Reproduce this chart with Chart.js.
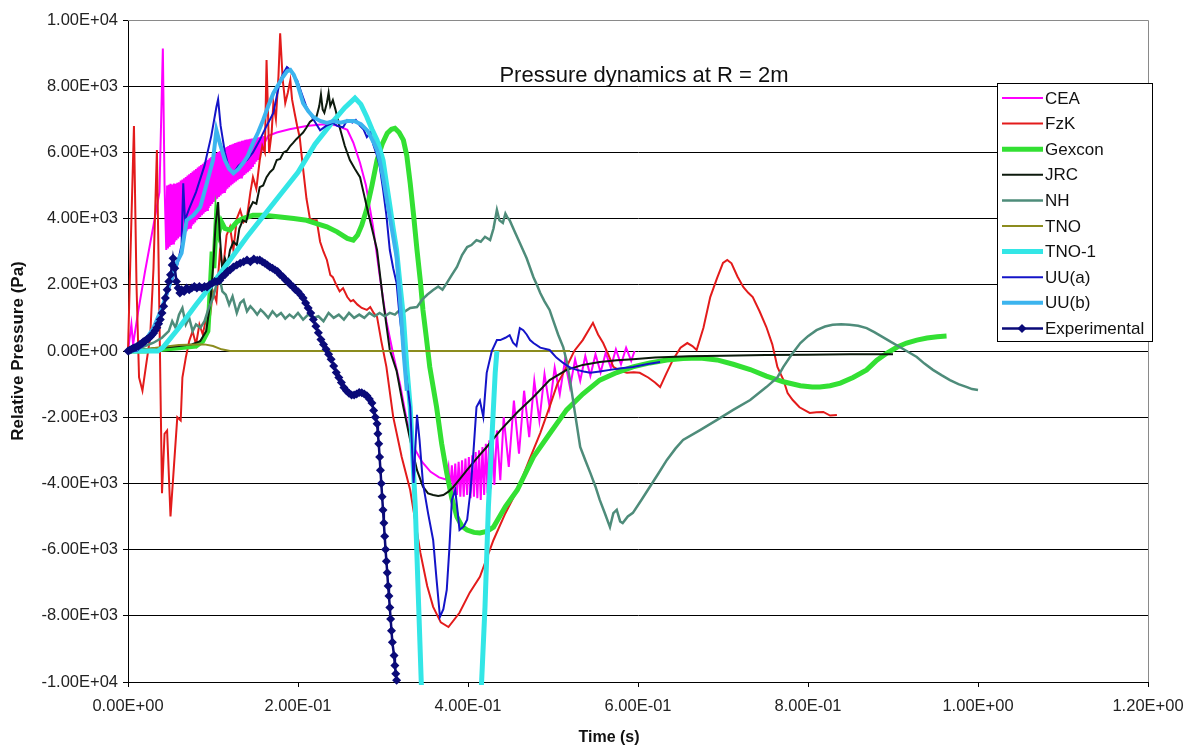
<!DOCTYPE html>
<html>
<head>
<meta charset="utf-8">
<title>Pressure dynamics at R = 2m</title>
<script src="https://cdn.jsdelivr.net/npm/chart.js@4.4.1/dist/chart.umd.min.js"></script>
<style>
  html, body { margin: 0; padding: 0; background: #ffffff; }
  canvas { display: block; }
</style>
</head>
<body>
<canvas id="chart" width="1189" height="747"></canvas>
<script>
// ---- data -------------------------------------------------------------
const seriesNames = ['CEA', 'FzK', 'Gexcon', 'JRC', 'NH', 'TNO', 'TNO-1', 'UU(a)', 'UU(b)', 'Experimental'];
const xTickLabels = ['0.00E+00', '2.00E-01', '4.00E-01', '6.00E-01', '8.00E-01', '1.00E+00', '1.20E+00'];
const yTickLabels = ['-1.00E+04', '-8.00E+03', '-6.00E+03', '-4.00E+03', '-2.00E+03', '0.00E+00',
                     '2.00E+03', '4.00E+03', '6.00E+03', '8.00E+03', '1.00E+04'];

// time (s) / relative pressure (Pa)
const ceaT = [0, 0.004, 0.006, 0.012, 0.020, 0.030, 0.037, 0.041, 0.043,
  0.045, 0.046, 0.047, 0.048, 0.049, 0.050, 0.051, 0.052, 0.053, 0.054, 0.055, 0.056, 0.057, 0.058, 0.059,
  0.060, 0.061, 0.062, 0.063, 0.064, 0.065, 0.066, 0.067, 0.068, 0.069, 0.070, 0.071, 0.072, 0.073, 0.074,
  0.075, 0.076, 0.077, 0.078, 0.079, 0.080, 0.081, 0.082, 0.083, 0.084, 0.085, 0.086, 0.087, 0.088, 0.089,
  0.090, 0.091, 0.092, 0.093, 0.094, 0.095, 0.096, 0.097, 0.098, 0.099, 0.100, 0.101, 0.102, 0.103, 0.104,
  0.105, 0.106, 0.107, 0.108, 0.109, 0.110, 0.111, 0.112, 0.113, 0.114, 0.115, 0.116, 0.117, 0.118, 0.119,
  0.120, 0.121, 0.122, 0.123, 0.124, 0.125, 0.126, 0.127, 0.128, 0.129, 0.130, 0.131, 0.132, 0.133, 0.134,
  0.135, 0.136, 0.137, 0.138, 0.139, 0.140, 0.141, 0.142, 0.143, 0.144, 0.145, 0.146, 0.147, 0.148, 0.149,
  0.150, 0.151, 0.152, 0.153, 0.154, 0.155, 0.156, 0.157, 0.158, 0.159, 0.160, 0.161,
  0.165, 0.175, 0.190, 0.210, 0.230, 0.245, 0.258, 0.265, 0.273, 0.280, 0.288, 0.296, 0.304, 0.312, 0.320,
  0.328, 0.336, 0.346, 0.356, 0.366, 0.374,
  0.377, 0.379, 0.381, 0.383, 0.385, 0.387, 0.389, 0.391, 0.393, 0.395, 0.397, 0.399, 0.401, 0.403, 0.405,
  0.407, 0.409, 0.411, 0.413, 0.415, 0.417, 0.419, 0.421, 0.423, 0.425, 0.427, 0.429, 0.431, 0.434,
  0.438, 0.442, 0.448, 0.454, 0.460, 0.466, 0.472, 0.478, 0.484, 0.490, 0.496,
  0.502, 0.508, 0.514, 0.520, 0.526, 0.532, 0.538, 0.544, 0.550, 0.556, 0.562, 0.568, 0.574, 0.580, 0.586,
  0.592, 0.596];
const ceaP = [0, 800, 200, 1200, 2400, 3800, 4800, 9140, 5000,
  3050, 5000, 3100, 5020, 3150, 5050, 3200, 5030, 3250, 5060, 3300, 5050, 3350, 5080, 3400,
  5100, 3450, 5150, 3500, 5180, 3520, 5220, 3580, 5260, 3620, 5300, 3680, 5340, 3720, 5380,
  3780, 5420, 3830, 5460, 3880, 5500, 3950, 5540, 4000, 5580, 4050, 5620, 4100, 5660, 4150,
  5700, 4200, 5740, 4260, 5780, 4320, 5820, 4380, 5860, 4440, 5900, 4500, 5940, 4550, 5980,
  4600, 6010, 4650, 6040, 4700, 6070, 4750, 6100, 4800, 6130, 4850, 6160, 4900, 6190, 4950,
  6220, 5000, 6240, 5040, 6260, 5080, 6280, 5120, 6300, 5160, 6320, 5200, 6330, 5240, 6350,
  5280, 6360, 5320, 6380, 5360, 6390, 5400, 6400, 5450, 6410, 5500, 6420, 5560, 6430, 5640,
  6440, 5720, 6450, 5800, 6460, 5900, 6470, 6000, 6480, 6100, 6490, 6300,
  6500, 6600, 6700, 6800, 6850, 6820, 6680, 6300, 5680, 5000, 3800, 2300, 900, -100, -1000,
  -2100, -2900, -3350, -3650, -3820, -3880,
  -3500, -4200, -3450, -4300, -3400, -4350, -3350, -4400, -3300, -4400, -3250, -4350, -3200, -4450, -3150,
  -4400, -3050, -4450, -3000, -4500, -2900, -4350, -2800, -4300, -2700, -4150, -2600, -4050, -2400,
  -3900, -2000, -3500, -1500, -3100, -1200, -2600, -900, -2100, -700, -1700,
  -500, -1300, -300, -1100, -250, -900, -150, -750, -100, -650, -50, -500, 50, -400, 100,
  -300, 0];

const fzkT = [0, 0.003, 0.007, 0.010, 0.013, 0.017, 0.022, 0.026, 0.030, 0.034, 0.037, 0.040, 0.043, 0.046,
  0.050, 0.054, 0.058, 0.062, 0.064, 0.068, 0.072, 0.076, 0.080, 0.084, 0.088, 0.092, 0.096, 0.100, 0.104,
  0.108, 0.112, 0.116, 0.120, 0.124, 0.128, 0.132, 0.136, 0.140, 0.144, 0.147, 0.151, 0.155, 0.158, 0.161,
  0.163, 0.166, 0.169, 0.171, 0.174, 0.177, 0.179, 0.182, 0.185, 0.188, 0.191, 0.193, 0.196, 0.199, 0.202,
  0.206, 0.210, 0.214, 0.218, 0.222, 0.226, 0.230, 0.234, 0.238, 0.241, 0.245, 0.249, 0.253, 0.258, 0.262,
  0.265, 0.270, 0.275, 0.281, 0.285, 0.289, 0.293, 0.298, 0.304, 0.312, 0.322, 0.332, 0.344, 0.352, 0.359,
  0.368, 0.377, 0.390, 0.402, 0.414, 0.430, 0.444, 0.458, 0.472, 0.485, 0.496, 0.505, 0.516, 0.525, 0.535,
  0.547, 0.553, 0.559, 0.565, 0.571, 0.579, 0.587, 0.595, 0.602, 0.612, 0.620, 0.626, 0.633, 0.641, 0.650,
  0.658, 0.664, 0.669, 0.677, 0.685, 0.693, 0.700, 0.705, 0.710, 0.717, 0.724, 0.730, 0.735, 0.743, 0.751,
  0.758, 0.764, 0.771, 0.776, 0.782, 0.790, 0.802, 0.810, 0.818, 0.826, 0.834];
const fzkP = [0, 3000, 6800, 2000, -800, -1200, -300, 400, 2500, 6070, 1000, -4300, -2500, -2400,
  -5000, -3500, -2000, -2100, -800, -200, 300, 600, 200, 800, 500, 1000, 940, 1800, 1500,
  2960, 2500, 3500, 3750, 3050, 4000, 4260, 3900, 4050, 4800, 5250, 4900, 5770, 6200, 6000,
  8790, 5980, 6600, 7490, 7000, 8300, 9600, 8200, 7490, 7800, 8180, 7600, 7190, 6800, 6460,
  5500, 4600, 4000, 3950, 3950, 3300, 3000, 2750, 2300, 2230, 2000, 1800, 1900, 1630, 1500,
  1540, 1400, 1300, 1240, 1330, 1150, 1030, 300, -480, -1990, -3200, -4200, -6100, -7100, -7730,
  -8200, -8340, -7910, -7300, -6820, -5710, -4900, -4200, -3300, -2480, -1690, -1000, -480, 0, 330,
  850, 500, 240, -100, -480, -600, -660, -640, -660, -800, -950, -1090, -700, -270, 100,
  240, 150, 30, 700, 1630, 2200, 2660, 2750, 2650, 2250, 1930, 1750, 1630, 1200, 725,
  200, -480, -870, -1270, -1480, -1700, -1870, -1850, -1840, -1950, -1930];

const gexconT = [0, 0.020, 0.040, 0.060, 0.080, 0.088, 0.094, 0.096, 0.099, 0.101, 0.104, 0.107, 0.110,
  0.114, 0.120, 0.128, 0.135, 0.147, 0.160, 0.179, 0.195, 0.210, 0.222, 0.234, 0.246, 0.258, 0.265, 0.270,
  0.275, 0.281, 0.287, 0.293, 0.299, 0.305, 0.310, 0.314, 0.319, 0.324, 0.328, 0.332, 0.336, 0.340, 0.344,
  0.347, 0.351, 0.355, 0.363, 0.369, 0.375, 0.381, 0.387, 0.393, 0.399, 0.407, 0.414, 0.422, 0.430, 0.444,
  0.458, 0.477, 0.496, 0.516, 0.535, 0.555, 0.575, 0.594, 0.614, 0.634, 0.653, 0.673, 0.693, 0.712, 0.732,
  0.751, 0.771, 0.791, 0.805, 0.814, 0.826, 0.838, 0.853, 0.869, 0.881, 0.893, 0.905, 0.916, 0.928, 0.940,
  0.952, 0.963];
const gexconP = [0, 0, 50, 100, 150, 300, 600, 1500, 3000, 2500, 4050, 3600, 3900,
  3700, 3650, 3900, 4000, 4100, 4100, 4050, 4000, 3950, 3850, 3750, 3600, 3400, 3350, 3500,
  3800, 4300, 5000, 5770, 6250, 6580, 6700, 6730, 6600, 6370, 5900, 5070, 4100, 3050, 2100,
  1240, 400, -480, -1690, -2800, -3690, -4450, -5010, -5300, -5410, -5480, -5500, -5450, -5320, -4700,
  -4200, -3200, -2500, -1780, -1300, -880, -650, -480, -360, -270, -230, -210, -270, -400, -560,
  -760, -930, -1050, -1090, -1090, -1050, -970, -800, -570, -280, -60, 120, 240, 330, 390,
  430, 450];

const jrcT = [0, 0.020, 0.040, 0.060, 0.075, 0.085, 0.092, 0.097, 0.100, 0.103, 0.106, 0.108, 0.111,
  0.114, 0.117, 0.120, 0.124, 0.128, 0.131, 0.135, 0.139, 0.143, 0.147, 0.151, 0.155, 0.159, 0.163, 0.167,
  0.171, 0.175, 0.179, 0.183, 0.187, 0.191, 0.194, 0.198, 0.202, 0.206, 0.210, 0.214, 0.218, 0.222, 0.225,
  0.227, 0.229, 0.231, 0.234, 0.236, 0.238, 0.241, 0.244, 0.249, 0.255, 0.261, 0.267, 0.273, 0.277, 0.281,
  0.287, 0.293, 0.300, 0.308, 0.316, 0.324, 0.332, 0.340, 0.347, 0.353, 0.359, 0.365, 0.371, 0.377, 0.383,
  0.391, 0.399, 0.410, 0.422, 0.438, 0.458, 0.477, 0.496, 0.516, 0.535, 0.555, 0.575, 0.594, 0.620, 0.660,
  0.700, 0.750, 0.800, 0.850, 0.900];
const jrcP = [0, 50, 100, 150, 200, 300, 600, 1500, 2500, 3800, 4500, 3500, 2400,
  2800, 2600, 3050, 3300, 3200, 3700, 3950, 3900, 4300, 4500, 4450, 4950, 5000, 5250, 5400,
  5500, 5770, 5800, 6000, 6050, 6200, 6280, 6400, 6500, 6600, 6750, 6920, 7000, 7100, 7400,
  7750, 7300, 7200, 7500, 7800, 7400, 7580, 7300, 6760, 6200, 5770, 5500, 5250, 4800, 4350,
  3700, 3050, 1540, 30, -600, -1700, -2690, -3600, -4100, -4300, -4350, -4380, -4350, -4250, -4100,
  -3850, -3590, -3250, -2900, -2400, -1850, -1390, -880, -570, -420, -330, -280, -250, -200, -160,
  -140, -120, -110, -100, -100];

const nhT = [0, 0.010, 0.020, 0.030, 0.040, 0.048, 0.052, 0.056, 0.060, 0.064, 0.068, 0.072, 0.076, 0.080,
  0.085, 0.090, 0.095, 0.100, 0.104, 0.108, 0.111, 0.115, 0.119, 0.123, 0.128, 0.132, 0.136, 0.140, 0.144,
  0.148, 0.152, 0.156, 0.160, 0.165, 0.170, 0.175, 0.180, 0.185, 0.190, 0.195, 0.200, 0.206, 0.212, 0.218,
  0.224, 0.230, 0.236, 0.242, 0.248, 0.254, 0.260, 0.266, 0.272, 0.278, 0.284, 0.290, 0.296, 0.302, 0.308,
  0.314, 0.320, 0.326, 0.332, 0.340, 0.346, 0.352, 0.359, 0.365, 0.370, 0.375, 0.381, 0.387, 0.393, 0.399,
  0.404, 0.410, 0.415, 0.420, 0.426, 0.430, 0.434, 0.437, 0.441, 0.444, 0.446, 0.449, 0.455, 0.461, 0.469,
  0.477, 0.481, 0.485, 0.490, 0.496, 0.500, 0.506, 0.512, 0.516, 0.520, 0.526, 0.532, 0.538, 0.544, 0.550,
  0.555, 0.561, 0.567, 0.571, 0.575, 0.579, 0.582, 0.588, 0.594, 0.604, 0.614, 0.624, 0.634, 0.644, 0.653,
  0.673, 0.693, 0.712, 0.732, 0.751, 0.764, 0.771, 0.781, 0.791, 0.800, 0.810, 0.820, 0.829, 0.839, 0.849,
  0.859, 0.869, 0.878, 0.888, 0.898, 0.908, 0.918, 0.928, 0.937, 0.947, 0.957, 0.967, 0.977, 0.987, 0.993,
  1.000];
const nhP = [0, 50, 150, 250, 400, 600, 900, 700, 1100, 1300, 800, 1000, 600, 800,
  700, 900, 1300, 1600, 2000, 2200, 1800, 1700, 1400, 1650, 1150, 1450, 1540, 1200, 1350,
  1240, 1100, 1250, 1150, 1000, 1200, 1050, 1150, 980, 1100, 1000, 1150, 950, 1100, 1000,
  1050, 900, 1150, 1000, 1100, 950, 1150, 1000, 1100, 1000, 1150, 1050, 1150, 1050, 1150,
  1100, 1250, 1200, 1300, 1330, 1550, 1700, 1840, 1950, 1850, 2050, 2300, 2540, 2900, 3140,
  3200, 3350, 3300, 3450, 3350, 3700, 4260, 3950, 3870, 4150, 4050, 3950, 3600, 3260, 2800,
  2230, 2000, 1750, 1500, 1240, 940, 500, 120, -300, -880, -1900, -2900, -3300, -3690, -4100,
  -4500, -4900, -5320, -4900, -4800, -5150, -5200, -5000, -4890, -4500, -4100, -3700, -3290, -2950, -2690,
  -2390, -2080, -1780, -1480, -1090, -800, -480, -100, 240, 450, 630, 740, 790, 810, 790,
  760, 690, 570, 420, 270, 120, -30, -180, -380, -570, -730, -880, -1000, -1090, -1150,
  -1180];

const tnoT = [0, 0.020, 0.040, 0.060, 0.080, 0.090, 0.100, 0.110, 0.120, 0.200, 0.300, 0.400, 0.500, 0.520];
const tnoP = [0, 50, 120, 180, 200, 200, 150, 50, 0, 0, 0, 0, 0, 0];

const tno1T = [0, 0.020, 0.035, 0.041, 0.060, 0.080, 0.100, 0.120, 0.140, 0.160, 0.180, 0.200, 0.220, 0.240,
  0.255, 0.267, 0.274, 0.281, 0.287, 0.293, 0.300, 0.304, 0.308, 0.312, 0.316, 0.320, 0.324, 0.328, 0.332,
  0.338, 0.342, 0.345, 0.350, 0.410, 0.416, 0.420, 0.424, 0.428, 0.432, 0.434];
const tno1P = [0, 0, 0, 100, 700, 1400, 2050, 2750, 3450, 4100, 4750, 5400, 6250, 6900,
  7350, 7640, 7450, 7070, 6700, 6370, 5770, 5070, 4400, 3700, 3050, 2000, 1030, -480, -1690,
  -4710, -7730, -10000, -12500, -12500, -10000, -7730, -4710, -2690, -660, 0];

const uuaT = [0, 0.010, 0.020, 0.030, 0.040, 0.050, 0.058, 0.063, 0.065, 0.067, 0.072, 0.080, 0.090, 0.098,
  0.104, 0.106, 0.109, 0.114, 0.119, 0.124, 0.130, 0.135, 0.140, 0.147, 0.155, 0.163, 0.171, 0.175, 0.179,
  0.183, 0.187, 0.191, 0.195, 0.199, 0.204, 0.210, 0.218, 0.226, 0.233, 0.241, 0.246, 0.253, 0.258, 0.264,
  0.268, 0.273, 0.277, 0.281, 0.285, 0.289, 0.293, 0.296, 0.300, 0.304, 0.308, 0.312, 0.316, 0.319, 0.322,
  0.326, 0.332, 0.336, 0.340, 0.343, 0.347, 0.353, 0.359, 0.363, 0.367, 0.371, 0.375, 0.378, 0.381, 0.385,
  0.388, 0.390, 0.395, 0.399, 0.403, 0.406, 0.410, 0.414, 0.418, 0.422, 0.428, 0.434, 0.438, 0.444, 0.449,
  0.453, 0.457, 0.461, 0.465, 0.469, 0.473, 0.477, 0.485, 0.496, 0.504, 0.512, 0.520, 0.528, 0.536, 0.544,
  0.555, 0.567, 0.580, 0.594, 0.610, 0.626];
const uuaP = [0, 0, 200, 600, 1200, 2000, 2600, 3200, 5070, 3950, 4300, 4800, 5600, 6500,
  7370, 7600, 6800, 6000, 5500, 5370, 5600, 5700, 5770, 6000, 6370, 6800, 7190, 7700, 8180,
  8400, 8580, 8490, 8300, 8180, 7800, 7370, 7000, 6670, 6800, 6890, 6800, 6760, 6980, 6900,
  6980, 6800, 6700, 6460, 6580, 6200, 5900, 5600, 4900, 4100, 3050, 2500, 2050, 1200, 540,
  -500, -1690, -3990, -1930, -2690, -3990, -4900, -5710, -6900, -8030, -7800, -7220, -6000, -4500, -4200,
  -4900, -5410, -5300, -5100, -4200, -3200, -1690, -1500, -1990, -660, 0, 330, 330, 400, 480,
  250, 150, 690, 630, 500, 330, 240, 100, 30, -200, -360, -500, -570, -620, -660,
  -620, -570, -520, -480, -400, -330];

const uubT = [0, 0.010, 0.020, 0.030, 0.040, 0.050, 0.058, 0.063, 0.069, 0.077, 0.085, 0.092, 0.100, 0.104,
  0.108, 0.114, 0.119, 0.124, 0.130, 0.136, 0.141, 0.147, 0.153, 0.159, 0.165, 0.171, 0.177, 0.182, 0.187,
  0.191, 0.195, 0.199, 0.206, 0.212, 0.218, 0.226, 0.234, 0.242, 0.250, 0.258, 0.266, 0.274, 0.282, 0.289,
  0.293, 0.296, 0.300, 0.304, 0.308, 0.312, 0.316, 0.320, 0.324, 0.328];
const uubP = [0, 50, 300, 700, 1300, 2100, 2700, 2960, 3950, 4100, 4350, 5000, 5770, 6670,
  6280, 5770, 5500, 5370, 5500, 5700, 5900, 6280, 6600, 6980, 7400, 7790, 8050, 8270, 8450,
  8490, 8350, 8090, 7490, 7250, 7070, 6950, 6890, 6950, 6900, 6950, 6950, 6850, 6650, 6300,
  6070, 5770, 5250, 4650, 4050, 3450, 2840, 1540, 30, -1200];

const expT = [0.000, 0.002, 0.004, 0.006, 0.008, 0.010, 0.012, 0.014, 0.016, 0.018, 0.020, 0.022, 0.024,
  0.026, 0.028, 0.030, 0.032, 0.034, 0.036, 0.038, 0.040, 0.042, 0.044, 0.046, 0.048, 0.050, 0.052, 0.053,
  0.055, 0.057, 0.059, 0.061, 0.063, 0.066, 0.069, 0.072, 0.075, 0.078, 0.081, 0.084, 0.087, 0.090, 0.093,
  0.096, 0.099, 0.102, 0.105, 0.108, 0.111, 0.114, 0.117, 0.120, 0.124, 0.128, 0.132, 0.136, 0.140, 0.144,
  0.148, 0.152, 0.155, 0.158, 0.161, 0.164, 0.167, 0.170, 0.173, 0.176, 0.179, 0.182, 0.185, 0.188, 0.191,
  0.194, 0.197, 0.200, 0.203, 0.206, 0.209, 0.212, 0.215, 0.218, 0.221, 0.224, 0.227, 0.230, 0.233, 0.236,
  0.239, 0.242, 0.245, 0.248, 0.251, 0.254, 0.257, 0.260, 0.263, 0.266, 0.269, 0.272, 0.275, 0.278, 0.281,
  0.284, 0.287, 0.289, 0.291, 0.293, 0.294, 0.295, 0.296, 0.297, 0.298, 0.299, 0.300, 0.301, 0.302, 0.303,
  0.304, 0.305, 0.306, 0.307, 0.308, 0.309, 0.310, 0.311, 0.313, 0.314, 0.315, 0.316];
const expP = [0, 20, 50, 80, 100, 130, 150, 200, 230, 280, 300, 350, 380,
  420, 480, 540, 620, 700, 820, 950, 1150, 1350, 1600, 1850, 2100, 2300, 2600, 2800,
  2500, 2100, 1900, 1750, 1850, 1800, 1900, 1850, 1900, 1950, 1900, 1950, 1900, 1950, 1930,
  2000, 2050, 2100, 2100, 2140, 2250, 2300, 2400, 2450, 2540, 2600, 2650, 2700, 2750, 2700,
  2780, 2740, 2750, 2700, 2650, 2600, 2540, 2500, 2450, 2400, 2300, 2250, 2150, 2100, 2000,
  1950, 1850, 1800, 1700, 1600, 1450, 1300, 1150, 950, 750, 550, 350, 200, 50, -100,
  -250, -450, -650, -800, -950, -1100, -1200, -1280, -1330, -1330, -1300, -1250, -1260, -1300, -1350,
  -1450, -1570, -1800, -2000, -2200, -2500, -2800, -3200, -3600, -4000, -4400, -4800, -5200, -5600, -6000,
  -6350, -6700, -7100, -7400, -7750, -8100, -8450, -8800, -9200, -9500, -9750, -9950];

// ---- styles -----------------------------------------------------------
const seriesStyle = {
  'CEA':          { color: '#ff00ff', width: 2 },
  'FzK':          { color: '#e31b1b', width: 2 },
  'Gexcon':       { color: '#33e033', width: 5 },
  'JRC':          { color: '#0d1a0d', width: 2 },
  'NH':           { color: '#4e8c7a', width: 2.5 },
  'TNO':          { color: '#8c8c1e', width: 2 },
  'TNO-1':        { color: '#33e6e6', width: 5 },
  'UU(a)':        { color: '#1414c8', width: 2 },
  'UU(b)':        { color: '#3cb4ee', width: 4 },
  'Experimental': { color: '#0a0a78', width: 2.5 }
};

const seriesData = {
  'CEA': [ceaT, ceaP], 'FzK': [fzkT, fzkP], 'Gexcon': [gexconT, gexconP], 'JRC': [jrcT, jrcP],
  'NH': [nhT, nhP], 'TNO': [tnoT, tnoP], 'TNO-1': [tno1T, tno1P], 'UU(a)': [uuaT, uuaP],
  'UU(b)': [uubT, uubP], 'Experimental': [expT, expP]
};

const datasets = seriesNames.map((name, i) => {
  const [t, p] = seriesData[name];
  const st = seriesStyle[name];
  const isExp = name === 'Experimental';
  return {
    label: name,
    data: t.map((x, k) => ({ x: x, y: p[k] })),
    borderColor: st.color,
    backgroundColor: st.color,
    borderWidth: st.width,
    pointRadius: isExp ? 4.5 : 0,
    pointStyle: 'rectRot',
    pointBorderWidth: 0,
    pointBackgroundColor: st.color,
    tension: 0,
    fill: false,
    order: seriesNames.length - 1 - i,   // later series drawn on top
    clip: isExp ? 6 : 3
  };
});

const FONT = "'Liberation Sans', Arial, sans-serif";
const PLOT = { left: 128, top: 20, right: 1148, bottom: 682 };

// plot frame, titles and legend box
const decorations = {
  id: 'decorations',
  afterDatasetsDraw(chart) {
    const ctx = chart.ctx;
    const a = chart.chartArea;
    ctx.save();
    // gray frame on top/right of the plot
    ctx.strokeStyle = '#8a8a8a';
    ctx.lineWidth = 1;
    ctx.beginPath();
    ctx.moveTo(a.left, a.top + 0.5);
    ctx.lineTo(a.right + 0.5, a.top + 0.5);
    ctx.lineTo(a.right + 0.5, a.bottom);
    ctx.stroke();

    // chart title
    ctx.fillStyle = '#111';
    ctx.font = '22px ' + FONT;
    ctx.textAlign = 'center';
    ctx.textBaseline = 'middle';
    ctx.fillText('Pressure dynamics at R = 2m', 644, 76);

    // x axis title
    ctx.font = 'bold 16px ' + FONT;
    ctx.fillText('Time (s)', 609, 738);

    // legend
    const box = { x: 997, y: 83, w: 155, h: 258 };
    ctx.fillStyle = '#fff';
    ctx.fillRect(box.x, box.y, box.w, box.h);
    ctx.strokeStyle = '#000';
    ctx.lineWidth = 1;
    ctx.strokeRect(box.x + 0.5, box.y + 0.5, box.w, box.h);
    ctx.font = '17px ' + FONT;
    ctx.textAlign = 'left';
    ctx.textBaseline = 'middle';
    chart.data.datasets.forEach((ds, i) => {
      const y = box.y + 15 + i * 25.6;
      ctx.strokeStyle = ds.borderColor;
      ctx.lineWidth = ds.borderWidth;
      ctx.beginPath();
      ctx.moveTo(box.x + 5, y);
      ctx.lineTo(box.x + 46, y);
      ctx.stroke();
      if (ds.pointRadius > 0) {
        const cx = box.x + 25;
        const r = 4.5;
        ctx.fillStyle = ds.borderColor;
        ctx.beginPath();
        ctx.moveTo(cx, y - r); ctx.lineTo(cx + r, y); ctx.lineTo(cx, y + r); ctx.lineTo(cx - r, y);
        ctx.closePath();
        ctx.fill();
      }
      ctx.fillStyle = '#111';
      ctx.fillText(ds.label, box.x + 48, y + 1);
    });
    ctx.restore();
  }
};

new Chart(document.getElementById('chart'), {
  type: 'line',
  data: { datasets: datasets },
  plugins: [decorations],
  options: {
    responsive: false,
    animation: false,
    devicePixelRatio: 1,
    layout: { padding: { left: 0, top: PLOT.top, right: 1189 - PLOT.right, bottom: 0 } },
    plugins: { legend: { display: false }, tooltip: { enabled: false }, title: { display: false } },
    scales: {
      x: {
        type: 'linear',
        min: 0, max: 1.2,
        afterFit(scale) {
          scale.height = 747 - PLOT.bottom;
          scale.paddingLeft = 0;
          scale.paddingRight = 0;
        },
        afterBuildTicks(scale) {
          scale.ticks = xTickLabels.map((_, k) => ({ value: k * 0.2 }));
        },
        ticks: {
          callback: (v, k) => xTickLabels[k],
          font: { family: FONT, size: 16.5 },
          color: '#222',
          padding: 10,
          maxRotation: 0,
          autoSkip: false
        },
        grid: { display: true, drawOnChartArea: false, drawTicks: true, tickLength: 5, tickColor: '#000' },
        border: { display: true, color: '#000', width: 1 },
        title: { display: false }
      },
      y: {
        type: 'linear',
        min: -10000, max: 10000,
        afterFit(scale) {
          scale.width = PLOT.left;
          scale.paddingTop = 0;
          scale.paddingBottom = 0;
        },
        afterBuildTicks(scale) {
          scale.ticks = yTickLabels.map((_, k) => ({ value: -10000 + k * 2000 }));
        },
        ticks: {
          callback: (v, k) => yTickLabels[k],
          font: { family: FONT, size: 16.5 },
          color: '#222',
          padding: 5,
          autoSkip: false
        },
        grid: {
          color: (c) => (c.tick && c.tick.value === 10000) ? '#8a8a8a' : '#000',
          lineWidth: 1,
          drawTicks: true, tickLength: 5, tickColor: '#000'
        },
        border: { display: true, color: '#000', width: 1 },
        title: {
          display: true, text: 'Relative Pressure (Pa)', color: '#111',
          font: { family: FONT, size: 17, weight: 'bold' },
          padding: { top: 8, bottom: 0 }
        }
      }
    }
  }
});
</script>
</body>
</html>
